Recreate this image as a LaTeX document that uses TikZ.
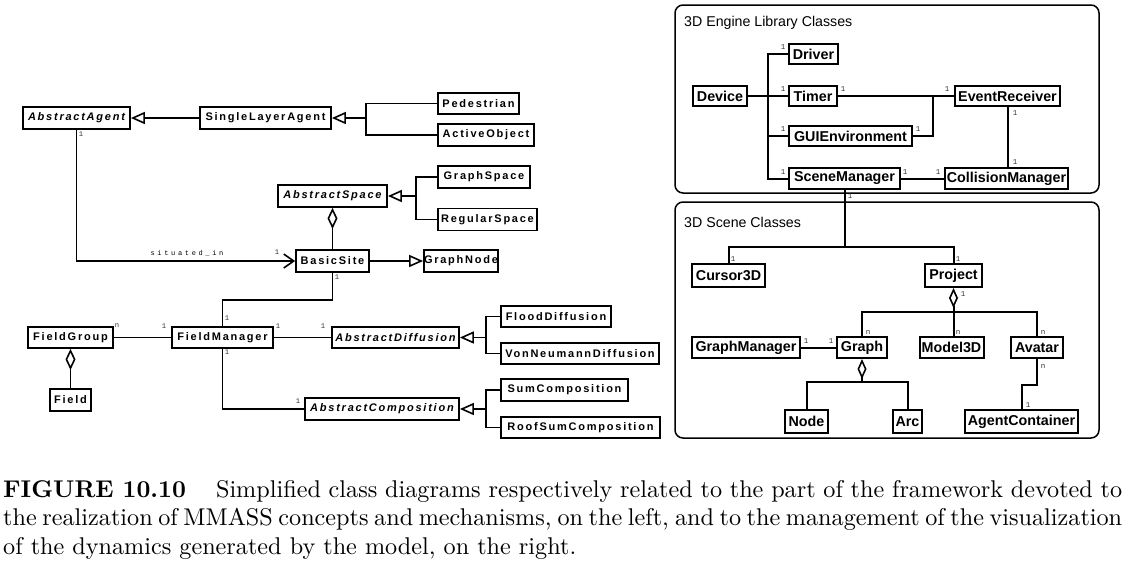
\documentclass[tikz,border=0pt]{standalone}
\usepackage{fontspec}
\usepackage{graphicx}
\usetikzlibrary{arrows.meta}
\newfontfamily\lfont[LetterSpace=16]{Liberation Sans}
\newfontfamily\rfont{Liberation Sans}
\newfontfamily\mfont{Liberation Mono}
\newfontfamily\sifont[LetterSpace=38]{Liberation Mono}
\tikzset{
  lbox/.style={draw, line width=1.8pt, inner sep=0pt, minimum height=21pt,
    font=\lfont\bfseries\fontsize{11}{12}\selectfont},
  abox/.style={lbox, font=\lfont\bfseries\itshape\fontsize{11}{12}\selectfont},
  rbox/.style={draw, line width=2pt, inner sep=0pt, minimum height=21pt,
    font=\rfont\bfseries\fontsize{14.3}{16}\selectfont},
  conn/.style={line width=1.8pt},
  rconn/.style={line width=2pt},
  gen/.style={conn, -{Triangle[open, length=14pt, width=12pt, line width=1.6pt]}},
  agg/.style={conn, -{Diamond[open, length=21pt, width=10pt, line width=1.6pt]}},
  ragg/.style={rconn, -{Diamond[open, length=20pt, width=9pt, line width=1.6pt]}},
  nav/.style={conn, -{Straight Barb[length=10pt, width=14pt, line width=1.6pt]}},
  mult/.style={font=\mfont\fontsize{7.2}{8}\selectfont, inner sep=0pt, text=black!80},
  rmult/.style={font=\mfont\fontsize{7.5}{8}\selectfont, inner sep=0pt, text=black!80},
  frame/.style={line width=1.5pt, rounded corners=8pt},
  title/.style={anchor=west, inner sep=0pt, font=\rfont\fontsize{14.2}{16}\selectfont},
}
\begin{document}
\begin{tikzpicture}[x=1pt, y=-1pt]
\fill[white] (0,0) rectangle (1132,579);
\useasboundingbox (0,0) rectangle (1132,579);

% ---------------- left diagram ----------------
\node[abox, minimum width=107pt, minimum height=22pt] (aa) at (76.5,118) {AbstractAgent};
\node[lbox, minimum width=131pt, minimum height=22pt] (sla) at (265.5,118) {SingleLayerAgent};
\node[lbox, minimum width=81pt] (ped) at (478.5,103.5) {Pedestrian};
\node[lbox, minimum width=96pt, minimum height=22pt] (ao) at (486,135) {ActiveObject};
\node[abox, minimum width=109pt, minimum height=22pt] (as) at (332.5,196) {AbstractSpace};
\node[lbox, minimum width=92pt, minimum height=22pt] (gs) at (484,177) {GraphSpace};
\node[lbox, minimum width=99pt, minimum height=22pt] (rs) at (487.5,219.5) {RegularSpace};
\node[lbox, minimum width=73pt, minimum height=22pt] (bs) at (332.5,261) {BasicSite};
\node[lbox, minimum width=72pt, minimum height=22pt] (gn) at (461,261) {GraphNode};
\node[lbox, minimum width=85pt] (fg) at (70.5,337.5) {FieldGroup};
\node[lbox, minimum width=101pt] (fm) at (222.5,337.5) {FieldManager};
\node[abox, minimum width=127pt] (ad) at (395.5,337.5) {AbstractDiffusion};
\node[lbox, minimum width=110pt] (fd) at (556,316.5) {FloodDiffusion};
\node[lbox, minimum width=158pt] (vn) at (580,353.5) {VonNeumannDiffusion};
\node[abox, minimum width=154pt, minimum height=22pt] (acmp) at (382,409) {AbstractComposition};
\node[lbox, minimum width=127pt, minimum height=22pt] (sc) at (564.5,390) {SumComposition};
\node[lbox, minimum width=159pt] (rsc) at (580.5,427.5) {RoofSumComposition};
\node[lbox, minimum width=41pt, minimum height=22pt] (fld) at (70.5,400) {Field};

\coordinate (b1) at (366,118);
\coordinate (b2) at (416,196);
\coordinate (b3) at (486,337.5);
\coordinate (b4) at (486,409);

\draw[gen] (sla.west) -- (aa.east);
\draw[gen, line width=2.6pt] (b1) -- (sla.east);
\draw[conn] (ped.west) -| (b1);
\draw[conn] (ao.west) -| (b1);
\draw[gen] (b2) -- (as.east);
\draw[conn] (gs.west) -| (b2);
\draw[conn] (rs.west) -| (b2);
\draw[agg] (bs.north) -- (as.south);
\draw[gen] (bs.east) -- (gn.west);
\draw[nav] (aa.south) |- (bs.west);
\draw[conn] (bs.south) -- ++(0,27) -| (fm.north);
\draw[conn] (fg.east) -- (fm.west);
\draw[conn] (fm.east) -- (ad.west);
\draw[conn] (fm.south) |- (acmp.west);
\draw[agg] (fld.north) -- (fg.south);
\draw[gen] (b3) -- (ad.east);
\draw[conn] (fd.west) -| (b3);
\draw[conn] (vn.west) -| (b3);
\draw[gen] (b4) -- (acmp.east);
\draw[conn] (sc.west) -| (b4);
\draw[conn] (rsc.west) -| (b4);

\node[mult] (m1) at (81,134) {1};
\node[inner sep=0pt, font=\sifont\fontsize{7}{8}\selectfont] (si) at (187,253) {situated\_in};
\node[mult] (m2) at (277,252) {1};
\node[mult] (m3) at (337,277) {1};
\node[mult] (m4) at (227,318) {1};
\node[mult] (m5) at (117,326) {n};
\node[mult] (m6) at (164,326) {1};
\node[mult] (m7) at (278,326) {1};
\node[mult] (m8) at (323,326) {1};
\node[mult] (m9) at (227,352) {1};
\node[mult] (m10) at (298,401) {1};

% ---------------- right diagram ----------------
\draw[frame] (675,5) rectangle (1099,193);
\draw[frame] (675,202) rectangle (1099,438);
\node[title] (t1) at (684,23) {3D Engine Library Classes};
\node[title] (t2) at (684,222) {3D Scene Classes};

\node[rbox, minimum width=54pt, minimum height=20pt] (dev) at (720,96) {Device};
\node[rbox, minimum width=49pt, minimum height=20pt] (drv) at (813.5,54) {Driver};
\node[rbox, minimum width=48pt, minimum height=20pt] (tim) at (813,96) {Timer};
\node[rbox, minimum width=105pt, minimum height=20pt] (er) at (1007.5,96) {EventReceiver};
\node[rbox, minimum width=123pt, minimum height=20pt] (gui) at (850.5,136) {GUIEnvironment};
\node[rbox, minimum width=111pt] (sm) at (844.5,178.5) {SceneManager};
\node[rbox, minimum width=123pt] (cm) at (1006.5,178.5) {CollisionManager};
\node[rbox, minimum width=73pt, minimum height=23pt] (cur) at (728.5,275.5) {Cursor3D};
\node[rbox, minimum width=57pt, minimum height=23pt] (prj) at (953.5,275.5) {Project};
\node[rbox, minimum width=108pt] (gm) at (746,347.5) {GraphManager};
\node[rbox, minimum width=50pt] (gr) at (862,347.5) {Graph};
\node[rbox, minimum width=64pt] (mdl) at (951.5,347.5) {Model3D};
\node[rbox, minimum width=52pt] (av) at (1037,347.5) {Avatar};
\node[rbox, minimum width=43pt, minimum height=23pt] (nd) at (806.5,421.5) {Node};
\node[rbox, minimum width=29pt, minimum height=23pt] (arc) at (907.5,421.5) {Arc};
\node[rbox, minimum width=113pt, minimum height=23pt] (agc) at (1021.5,421.5) {AgentContainer};

\coordinate (rb) at (768,96);
\coordinate (rj) at (933,96);
\coordinate (rj2) at (844.5,247);
\coordinate (rj3) at (953.5,312);
\coordinate (rj4) at (862,382);

\draw[rconn] (dev.east) -- (tim.west);
\draw[rconn] (drv.west) -| (rb);
\draw[rconn] (gui.west) -| (rb);
\draw[rconn] (sm.west) -| (rb);
\draw[rconn] (tim.east) -- (er.west);
\draw[rconn] (gui.east) -| (rj);
\draw[rconn] (er.south) -- (er.south |- cm.north);
\draw[rconn] (sm.east) -- (cm.west);
\draw[rconn] (sm.south) -- (rj2);
\draw[rconn] (cur.north) |- (rj2);
\draw[rconn] (prj.north) |- (rj2);
\draw[ragg] (rj3) -- (prj.south);
\draw[rconn] (gr.north) |- (rj3);
\draw[rconn] (rj3) -- (rj3 |- mdl.north);
\draw[rconn] (av.north) |- (rj3);
\draw[rconn] (gm.east) -- (gr.west);
\draw[ragg] (rj4) -- (gr.south);
\draw[rconn] (nd.north) |- (rj4);
\draw[rconn] (arc.north) |- (rj4);
\draw[rconn] (av.south) -- ++(0,25.5) -| (agc.north);

\node[rmult] (r1) at (783,47) {1};
\node[rmult] (r2) at (783,89) {1};
\node[rmult] (r3) at (843,89) {1};
\node[rmult] (r4) at (947,89) {1};
\node[rmult] (r5) at (1015,113) {1};
\node[rmult] (r6) at (783,129) {1};
\node[rmult] (r7) at (918,129) {1};
\node[rmult] (r8) at (783,172) {1};
\node[rmult] (r9) at (905,172) {1};
\node[rmult] (r10) at (938,172) {1};
\node[rmult] (r11) at (1015,162) {1};
\node[rmult] (r12) at (850,196) {1};
\node[rmult] (r13) at (733,259) {1};
\node[rmult] (r14) at (958,259) {1};
\node[rmult] (r15) at (963,294) {1};
\node[rmult] (r16) at (868,332) {n};
\node[rmult] (r17) at (958,332) {n};
\node[rmult] (r18) at (1043,332) {n};
\node[rmult] (r19) at (806,341) {1};
\node[rmult] (r20) at (831,341) {1};
\node[rmult] (r21) at (1043,366) {n};
\node[rmult] (r22) at (1028,405) {1};

% ---------------- caption ----------------
\node[anchor=base west, inner sep=0pt] (cap1) at (3,497) {\scalebox{2.42}{\makebox[462.4pt][s]{\textbf{FIGURE 10.10}\hspace{12.4pt}Simplified class diagrams respectively related to the part of the framework devoted to}}};
\node[anchor=base west, inner sep=0pt] (cap2) at (3,525.5) {\scalebox{2.42}{\makebox[462.4pt][s]{the realization of MMASS concepts and mechanisms, on the left, and to the management of the visualization}}};
\node[anchor=base west, inner sep=0pt] (cap3) at (3,554) {\scalebox{2.42}{of the dynamics generated by the model, on the right.}};
\end{tikzpicture}
\end{document}
